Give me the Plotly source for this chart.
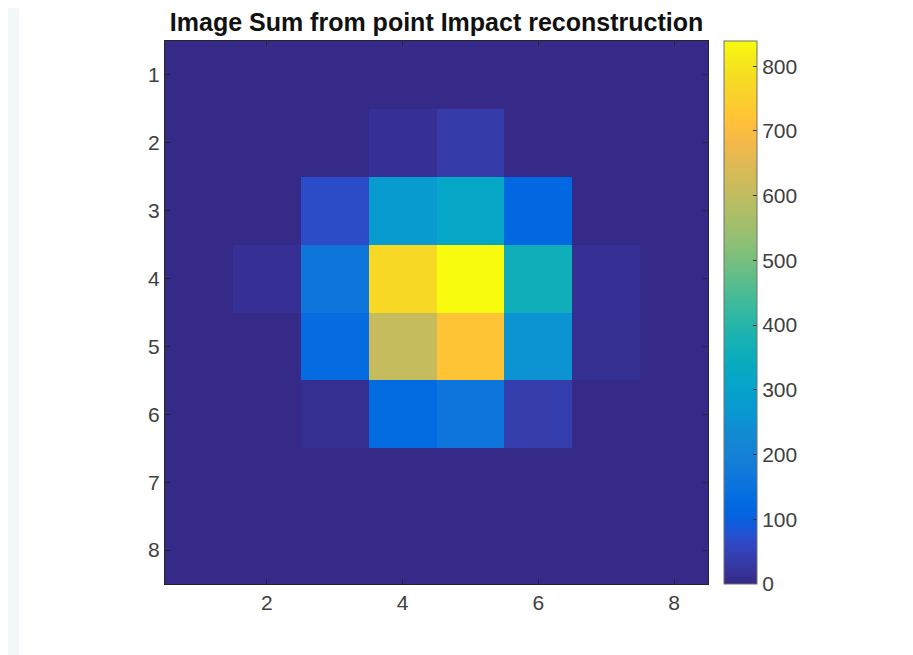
import plotly.graph_objects as go

title_text = "Image Sum from point Impact reconstruction"
x_vals = [1, 2, 3, 4, 5, 6, 7, 8]
y_vals = [1, 2, 3, 4, 5, 6, 7, 8]
row1 = [0, 0, 0, 0, 0, 0, 0, 0]
row2 = [0, 0, 0, 14, 35, 0, 0, 0]
row3 = [0, 0, 68, 275, 318, 120, 0, 0]
row4 = [0, 14, 160, 775, 839, 360, 14, 0]
row5 = [0, 0, 130, 610, 722, 255, 12, 0]
row6 = [0, 0, 12, 128, 160, 40, 0, 0]
row7 = [0, 0, 0, 0, 0, 0, 0, 0]
row8 = [0, 0, 0, 0, 0, 0, 0, 0]
z_vals = [row1, row2, row3, row4, row5, row6, row7, row8]
cbar_ticks = [0, 100, 200, 300, 400, 500, 600, 700, 800]
x_ticks = [2, 4, 6, 8]

parula64 = [
    (0.2081, 0.1663, 0.5292), (0.2116, 0.1898, 0.5777), (0.2123, 0.2138, 0.6270), (0.2081, 0.2386, 0.6771),
    (0.1959, 0.2645, 0.7279), (0.1707, 0.2919, 0.7792), (0.1253, 0.3242, 0.8303), (0.0591, 0.3598, 0.8683),
    (0.0117, 0.3875, 0.8820), (0.0060, 0.4086, 0.8828), (0.0165, 0.4266, 0.8786), (0.0329, 0.4430, 0.8720),
    (0.0498, 0.4586, 0.8641), (0.0629, 0.4737, 0.8554), (0.0723, 0.4887, 0.8467), (0.0779, 0.5040, 0.8384),
    (0.0793, 0.5200, 0.8312), (0.0749, 0.5375, 0.8263), (0.0641, 0.5570, 0.8240), (0.0488, 0.5772, 0.8228),
    (0.0343, 0.5966, 0.8199), (0.0265, 0.6137, 0.8135), (0.0239, 0.6287, 0.8038), (0.0231, 0.6418, 0.7913),
    (0.0228, 0.6535, 0.7768), (0.0267, 0.6642, 0.7607), (0.0384, 0.6743, 0.7436), (0.0590, 0.6838, 0.7254),
    (0.0843, 0.6928, 0.7062), (0.1133, 0.7015, 0.6859), (0.1453, 0.7098, 0.6646), (0.1801, 0.7177, 0.6424),
    (0.2178, 0.7250, 0.6193), (0.2586, 0.7317, 0.5954), (0.3022, 0.7376, 0.5712), (0.3482, 0.7424, 0.5473),
    (0.3953, 0.7459, 0.5244), (0.4420, 0.7481, 0.5033), (0.4871, 0.7491, 0.4840), (0.5300, 0.7491, 0.4661),
    (0.5709, 0.7485, 0.4494), (0.6099, 0.7473, 0.4337), (0.6473, 0.7456, 0.4188), (0.6834, 0.7435, 0.4044),
    (0.7184, 0.7411, 0.3905), (0.7525, 0.7384, 0.3768), (0.7858, 0.7356, 0.3633), (0.8185, 0.7327, 0.3498),
    (0.8507, 0.7299, 0.3360), (0.8824, 0.7274, 0.3217), (0.9139, 0.7258, 0.3063), (0.9450, 0.7261, 0.2886),
    (0.9739, 0.7314, 0.2666), (0.9938, 0.7455, 0.2403), (0.9990, 0.7653, 0.2164), (0.9955, 0.7861, 0.1967),
    (0.9880, 0.8066, 0.1794), (0.9789, 0.8271, 0.1633), (0.9697, 0.8481, 0.1475), (0.9626, 0.8705, 0.1309),
    (0.9589, 0.8949, 0.1132), (0.9598, 0.9218, 0.0948), (0.9661, 0.9514, 0.0755), (0.9763, 0.9831, 0.0538),
]
colorscale = [[i / 63, "rgb(%d,%d,%d)" % tuple(round(c * 255) for c in col)] for i, col in enumerate(parula64)]

# the page body adds an 8px offset, so the figure is sized/positioned to compensate
OFF = 8
W, H = 913 - OFF, 655 - OFF
L, T = 165 - OFF, 41 - OFF
pw = ph = 543
R, B = W - L - pw, H - T - ph

font_family = "Liberation Sans, Arial, Helvetica, sans-serif"
tick_color = "#404040"

fig = go.Figure(
    go.Heatmap(
        x=x_vals, y=y_vals, z=z_vals,
        colorscale=colorscale, zmin=0, zmax=max(max(r) for r in z_vals),
        colorbar=dict(
            x=(724 - OFF - L) / pw, xanchor="left", xpad=0, ypad=0,
            y=0.5, yanchor="middle", len=1, lenmode="fraction",
            thickness=33, thicknessmode="pixels",
            outlinewidth=1, outlinecolor="#707070",
            tickvals=cbar_ticks, ticks="inside", ticklen=4, tickcolor="#303030",
            tickfont=dict(family=font_family, size=21, color=tick_color),
        ),
        hoverongaps=False,
    )
)

fig.add_shape(
    type="rect", xref="paper", yref="paper", layer="below",
    x0=(19 - OFF - L) / pw, x1=(906 - OFF - L) / pw, y0=-(B + 5) / ph, y1=1 + (T + 5) / ph,
    fillcolor="white", line=dict(width=0),
)

axis_common = dict(
    showgrid=False, zeroline=False, showline=True, linecolor="#262626", linewidth=1,
    mirror="ticks", ticks="inside", ticklen=5, tickcolor="#262626",
    tickfont=dict(family=font_family, size=21, color=tick_color),
)

fig.update_layout(
    width=W, height=H,
    margin=dict(l=L, r=R, t=T, b=B),
    paper_bgcolor="#f2f8fa", plot_bgcolor="white",
    title=dict(
        text="<b>" + title_text + "</b>", x=(L + pw / 2) / W, xanchor="center",
        y=1 - 14 / H, yanchor="middle",
        font=dict(family=font_family, size=25, color="#111111"),
    ),
    xaxis=dict(range=[0.5, 8.5], tickvals=x_ticks, **axis_common),
    yaxis=dict(range=[8.5, 0.5], tickvals=y_vals, **axis_common),
)

fig.write_html("out.html")
